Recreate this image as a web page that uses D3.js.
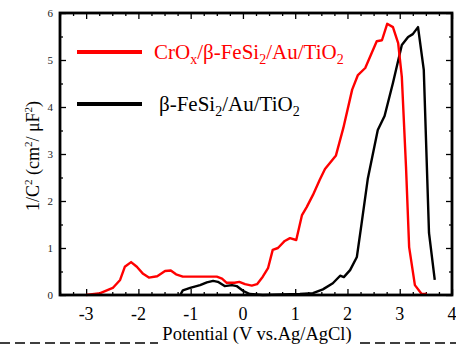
<!DOCTYPE html>
<html>
<head>
<meta charset="utf-8">
<script src="https://cdn.jsdelivr.net/npm/d3@7"></script>
<style>
  body { margin: 0; background: #fff; }
  svg { display: block; }
  text { font-family: "Liberation Serif", "Times New Roman", serif; }
</style>
</head>
<body>
<svg id="chart" width="456" height="347" font-family="Liberation Serif, serif"></svg>
<script>
// CrOx/β-FeSi2/Au/TiO2 (red)
const redV = [-3.0, -2.73, -2.49, -2.35, -2.26, -2.14, -2.03, -1.91, -1.80, -1.64, -1.49, -1.38, -1.28, -1.15, -0.88, -0.50, -0.40, -0.31, -0.16, -0.07, 0.04, 0.17, 0.27, 0.38, 0.48, 0.57, 0.67, 0.80, 0.90, 1.02, 1.13, 1.22, 1.34, 1.47, 1.57, 1.78, 1.92, 2.09, 2.20, 2.34, 2.56, 2.66, 2.76, 2.87, 2.97, 3.04, 3.12, 3.18, 3.29, 3.42, 3.52];
const redC = [0.0, 0.04, 0.15, 0.32, 0.6, 0.7, 0.6, 0.45, 0.37, 0.4, 0.51, 0.52, 0.44, 0.39, 0.39, 0.39, 0.35, 0.26, 0.26, 0.28, 0.23, 0.2, 0.23, 0.39, 0.57, 0.96, 1.0, 1.15, 1.21, 1.17, 1.7, 1.87, 2.13, 2.45, 2.68, 2.97, 3.55, 4.37, 4.68, 4.83, 5.40, 5.42, 5.77, 5.70, 5.36, 4.64, 2.73, 1.02, 0.21, 0.02, 0.02];

// β-FeSi2/Au/TiO2 (black)
const blackV = [-1.20, -1.15, -1.01, -0.82, -0.69, -0.57, -0.48, -0.35, -0.21, -0.12, 0.0, 0.13, 0.38, 1.09, 1.34, 1.53, 1.72, 1.86, 1.93, 2.05, 2.18, 2.27, 2.39, 2.58, 2.71, 2.87, 3.04, 3.16, 3.25, 3.35, 3.46, 3.56, 3.67];
const blackC = [0.0, 0.1, 0.15, 0.21, 0.27, 0.3, 0.28, 0.19, 0.21, 0.19, 0.09, 0.02, 0.0, 0.02, 0.04, 0.12, 0.25, 0.41, 0.38, 0.53, 0.81, 1.52, 2.48, 3.51, 3.81, 4.51, 5.32, 5.49, 5.55, 5.70, 4.79, 1.32, 0.32];

const xTicks = [-3, -2, -1, 0, 1, 2, 3, 4];
const yTicks = [0, 1, 2, 3, 4, 5, 6];

const svg = d3.select('#chart');

const mLeft = 60, mRight = 452, mTop = 13, mBottom = 295;

const x = d3.scaleLinear().domain([-3.5, 4]).range([mLeft, mRight]);
const y = d3.scaleLinear().domain([0, 6]).range([mBottom, mTop]);

const xMinor = d3.range(-3.5, 4.001, 0.25).filter(v => !xTicks.includes(v));
const yMinor = d3.range(0.5, 6, 1);

// ticks (inward, mirrored on all four sides)
const tickSets = [
  [d3.axisTop(x).tickValues(xTicks).tickSize(6), `translate(0,${mBottom})`],
  [d3.axisTop(x).tickValues(xMinor).tickSize(3), `translate(0,${mBottom})`],
  [d3.axisBottom(x).tickValues(xTicks).tickSize(6), `translate(0,${mTop})`],
  [d3.axisBottom(x).tickValues(xMinor).tickSize(3), `translate(0,${mTop})`],
  [d3.axisRight(y).tickValues(yTicks).tickSize(6), `translate(${mLeft},0)`],
  [d3.axisRight(y).tickValues(yMinor).tickSize(3), `translate(${mLeft},0)`],
  [d3.axisLeft(y).tickValues(yTicks).tickSize(6), `translate(${mRight},0)`],
  [d3.axisLeft(y).tickValues(yMinor).tickSize(3), `translate(${mRight},0)`]
];
tickSets.forEach(([ax, t]) => {
  const g = svg.append('g').attr('transform', t).call(ax.tickFormat(''));
  g.select('.domain').remove();
  g.selectAll('line').attr('stroke', '#000').attr('stroke-width', 1.3);
});

// x tick labels
svg.append('g').selectAll('text')
  .data(xTicks)
  .join('text')
    .attr('x', d => x(d))
    .attr('y', 320)
    .attr('text-anchor', 'middle')
    .attr('font-size', '18px')
    .attr('fill', '#000')
    .text(d => d);

// y tick labels
svg.append('g').selectAll('text')
  .data(yTicks)
  .join('text')
    .attr('x', 53)
    .attr('y', d => y(d) + 3.5)
    .attr('text-anchor', 'end')
    .attr('font-size', '11px')
    .attr('fill', '#222')
    .text(d => d);

// curves
const line = d3.line().x(d => x(d[0])).y(d => y(d[1]));

svg.append('path')
  .datum(blackV.map((v, i) => [v, blackC[i]]))
  .attr('fill', 'none')
  .attr('stroke', '#000')
  .attr('stroke-width', 2.4)
  .attr('stroke-linejoin', 'round')
  .attr('d', line);

svg.append('path')
  .datum(redV.map((v, i) => [v, redC[i]]))
  .attr('fill', 'none')
  .attr('stroke', '#ff0000')
  .attr('stroke-width', 2.4)
  .attr('stroke-linejoin', 'round')
  .attr('d', line);

// frame
svg.append('rect')
  .attr('x', mLeft).attr('y', mTop)
  .attr('width', mRight - mLeft).attr('height', mBottom - mTop)
  .attr('fill', 'none')
  .attr('stroke', '#000')
  .attr('stroke-width', 2.8);

// legend
const legend = [
  { color: '#ff0000', y: 52, tx: 154, parts: [['CrO'], ['x', 'sub'], ['/β-FeSi'], ['2', 'sub'], ['/Au/TiO'], ['2', 'sub']] },
  { color: '#000', y: 104, tx: 159, parts: [['β-FeSi'], ['2', 'sub'], ['/Au/TiO'], ['2', 'sub']] }
];
legend.forEach(l => {
  svg.append('line')
    .attr('x1', 77).attr('x2', 142)
    .attr('y1', l.y).attr('y2', l.y)
    .attr('stroke', l.color)
    .attr('stroke-width', 4);
  const t = svg.append('text')
    .attr('x', l.tx)
    .attr('y', l.y + 7)
    .attr('font-size', '21px')
    .attr('fill', l.color);
  let shifted = false;
  l.parts.forEach(p => {
    const ts = t.append('tspan').text(p[0]);
    if (p[1] === 'sub') {
      ts.attr('font-size', '14px').attr('dy', shifted ? 0 : 5);
      shifted = true;
    } else if (shifted) {
      ts.attr('dy', -5);
      shifted = false;
    }
  });
});

// y label
const yl = svg.append('text')
  .attr('transform', `translate(39,${(mTop + mBottom) / 2 + 2}) rotate(-90)`)
  .attr('text-anchor', 'middle')
  .attr('font-size', '18px')
  .attr('fill', '#000');
yl.append('tspan').text('1/C');
yl.append('tspan').text('2').attr('font-size', '11px').attr('dy', -7);
yl.append('tspan').text(' (cm').attr('dy', 7);
yl.append('tspan').text('2').attr('font-size', '11px').attr('dy', -7);
yl.append('tspan').text('/ μF').attr('dy', 7);
yl.append('tspan').text('2').attr('font-size', '11px').attr('dy', -7);
yl.append('tspan').text(')').attr('dy', 7);

// dashed separator and x label
svg.append('line')
  .attr('x1', 0).attr('x2', 456)
  .attr('y1', 343).attr('y2', 343)
  .attr('stroke', '#000')
  .attr('stroke-width', 1.5)
  .attr('stroke-dasharray', '10,5');

svg.append('rect')
  .attr('x', 158).attr('y', 326)
  .attr('width', 198).attr('height', 21)
  .attr('fill', '#fff');

svg.append('text')
  .attr('x', (mLeft + mRight) / 2 + 1)
  .attr('y', 340)
  .attr('text-anchor', 'middle')
  .attr('font-size', '18.5px')
  .attr('fill', '#000')
  .text('Potential (V vs.Ag/AgCl)');
</script>
</body>
</html>
